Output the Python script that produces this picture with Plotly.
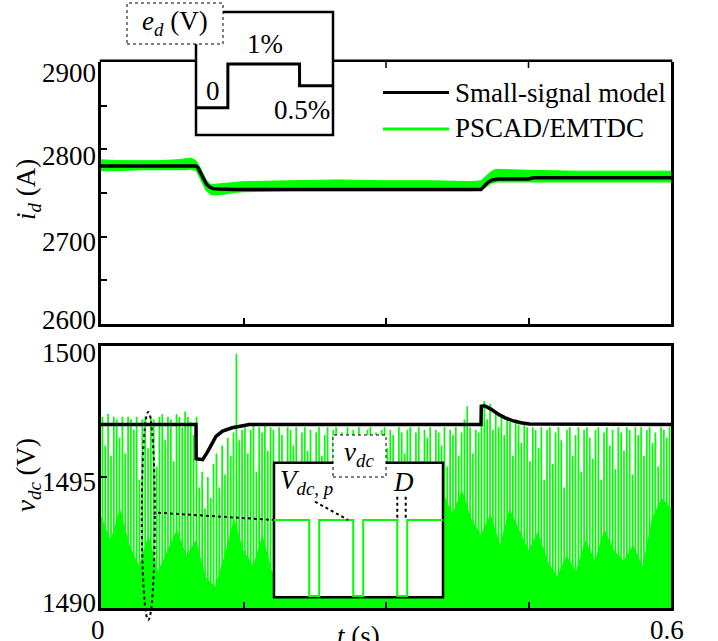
import plotly.graph_objects as go

# ---------------- data ----------------
# top panel: i_d (A)
id_black_t = [0, 0.1, 0.102, 0.105, 0.108, 0.111, 0.114, 0.118, 0.125, 0.14, 0.4, 0.402, 0.405,
              0.408, 0.412, 0.418, 0.45, 0.455, 0.6]
id_black = [2781, 2781, 2779, 2773, 2766, 2760, 2757, 2755, 2754.5, 2754, 2754, 2756, 2760,
            2763, 2765, 2766, 2766, 2767.5, 2767.5]
id_band_t = [0, 0.02, 0.04, 0.06, 0.08, 0.09, 0.095, 0.1, 0.105, 0.11, 0.115, 0.12, 0.13, 0.14,
             0.15, 0.2, 0.25, 0.3, 0.35, 0.39, 0.4, 0.405, 0.41, 0.415, 0.42, 0.45, 0.5, 0.55, 0.6]
id_band_hi = [2788, 2787, 2787, 2787, 2788, 2789, 2790, 2787, 2778, 2766, 2760, 2760, 2761, 2762,
              2763, 2764, 2765, 2764, 2764, 2763, 2764, 2769, 2774, 2777, 2777, 2776, 2775, 2775, 2775]
id_band_lo = [2775, 2775, 2776, 2776, 2776, 2776, 2777, 2775, 2764, 2753, 2748, 2747, 2748, 2750,
              2751, 2752, 2752, 2752, 2752, 2752, 2753, 2756, 2760, 2762, 2762, 2762, 2762, 2762, 2762]

# bottom panel: v_dc (V)
vdc_black_t = [0, 0.1, 0.1002, 0.107, 0.112, 0.117, 0.121, 0.128, 0.138, 0.148, 0.156, 0.17,
               0.4, 0.4003, 0.4035, 0.41, 0.419, 0.426, 0.433, 0.442, 0.451, 0.6]
vdc_black = [1497.0, 1497.0, 1495.7, 1495.66, 1495.95, 1496.3, 1496.55, 1496.75, 1496.88, 1496.95,
             1497.0, 1497.0, 1497.0, 1497.7, 1497.72, 1497.6, 1497.38, 1497.25, 1497.15, 1497.07,
             1497.02, 1497.0]
vdc_spike_hi = [
    1497.3, 1496.2, 1497.4, 1495.8, 1497.3, 1497.2, 1496.5, 1497.3, 1495.9, 1497.3,
    1497.2, 1496.8, 1497.3, 1494.9, 1497.2, 1497.3, 1496.1, 1497.3, 1497.2, 1495.4,
    1497.3, 1497.4, 1496.4, 1497.3, 1497.2, 1495.6, 1497.4, 1497.3, 1496.9, 1497.5,
    1497.3, 1497.1, 1496.6, 1497.3, 1494.6, 1495.2, 1493.8, 1495.0, 1494.2, 1495.5,
    1495.9, 1494.6, 1496.2, 1495.1, 1496.5, 1495.8, 1496.7, 1499.7, 1496.4, 1496.8,
    1496.9, 1495.9, 1496.8, 1497.0, 1495.2, 1496.9, 1496.7, 1497.0, 1496.0, 1496.9,
    1496.8, 1495.5, 1496.9, 1496.6, 1494.8, 1496.9, 1496.8, 1496.2, 1496.9, 1495.3,
    1496.7, 1496.9, 1496.0, 1496.8, 1494.6, 1496.7, 1496.9, 1495.8, 1496.6, 1496.9,
    1495.4, 1496.8, 1496.9, 1496.3, 1496.7, 1494.9, 1496.9, 1496.5, 1496.8, 1495.7,
    1496.9, 1496.6, 1495.1, 1496.8, 1496.9, 1496.2, 1496.7, 1494.7, 1496.8, 1496.9,
    1496.1, 1496.8, 1496.6, 1495.3, 1496.9, 1496.7, 1495.9, 1496.8, 1496.9, 1494.8,
    1496.7, 1496.9, 1495.6, 1496.8, 1496.5, 1496.9, 1495.0, 1496.8, 1496.7, 1496.2,
    1496.9, 1495.4, 1496.8, 1496.6, 1496.9, 1495.8, 1496.7, 1497.2, 1497.7, 1496.9,
    1495.9, 1496.8, 1496.7, 1497.6, 1497.9, 1497.2, 1497.8, 1496.8, 1497.5, 1496.9,
    1497.4, 1496.6, 1497.3, 1497.1, 1495.8, 1497.2, 1497.0, 1496.3, 1497.0, 1496.9,
    1495.6, 1496.9, 1496.8, 1496.1, 1496.9, 1494.9, 1496.8, 1496.9, 1495.5, 1496.7,
    1496.9, 1496.4, 1494.6, 1496.8, 1496.9, 1495.8, 1496.6, 1496.9, 1495.2, 1496.8,
    1496.9, 1496.5, 1495.7, 1496.8, 1496.9, 1494.9, 1496.7, 1496.9, 1496.2, 1496.8,
    1495.3, 1496.9, 1496.7, 1496.0, 1496.9, 1496.8, 1495.1, 1496.9, 1496.6, 1496.9,
    1495.8, 1496.8, 1496.9, 1496.3, 1496.7, 1495.4, 1496.9, 1496.8, 1496.5, 1496.9,
]
vdc_spike_period = 0.003
vdc_base_step = 0.01
vdc_base = [1493.5, 1492.6, 1493.8, 1492.4, 1491.6, 1492.8, 1491.4, 1492.2, 1493.0, 1492.0,
            1492.6, 1491.2, 1490.8, 1492.0, 1493.4, 1492.2, 1491.6, 1492.8, 1491.4, 1490.9,
            1491.8, 1491.2, 1492.4, 1491.6, 1492.9, 1492.2, 1493.1, 1492.4, 1493.4, 1492.6,
            1493.6, 1492.8, 1493.2, 1492.4, 1493.8, 1493.0, 1494.4, 1493.6, 1494.5, 1493.4,
            1492.8, 1493.6, 1492.4, 1493.8, 1493.0, 1492.2, 1492.9, 1491.8, 1491.2, 1492.0,
            1491.4, 1492.6, 1491.8, 1493.0, 1492.2, 1491.8, 1492.4, 1491.6, 1493.4, 1494.2,
            1493.8]

# inset: e_d step (schematic)
ed_step_x = [0, 1, 1, 3.25, 3.25, 4.3]
ed_step_pct = [0, 0, 1, 1, 0.5, 0.5]
# inset: v_dc waveform (schematic, normalised)
vdc_inset_x = [0, 0.80, 0.80, 1.027, 1.027, 1.80, 1.80, 2.027, 2.027, 2.80, 2.80, 3.027, 3.027, 3.84]
vdc_inset_v = [1, 1, 0, 0, 1, 1, 0, 0, 1, 1, 0, 0, 1, 1]

id_tickvals = [2600, 2650, 2700, 2750, 2800, 2850, 2900]
id_ticklabels = ["2600", "2700", "2800", "2900"]
vdc_tickvals = [1490, 1495, 1500]
vdc_ticklabels = ["1490", "1495", "1500"]
t_tickvals = [0, 0.15, 0.3, 0.45, 0.6]
t_ticklabels = ["0", "0.6"]

# ---------------- layout helpers (pixel -> paper) ----------------
W, H = 718, 641
ML, MR, MT, MB = 101, 47, 2, 33
PW, PH = W - ML - MR, H - MT - MB


def X(px):
    return (px - ML) / PW


def Y(py):
    return (H - MB - py) / PH


FONT = "Liberation Serif, Times New Roman, serif"
FS = 27
GREEN = "#00ff00"

fig = go.Figure()

# top panel
fig.add_trace(go.Scatter(x=id_band_t, y=id_band_lo, mode="lines", line=dict(width=0, color=GREEN),
                         xaxis="x", yaxis="y", showlegend=False, hoverinfo="skip"))
fig.add_trace(go.Scatter(x=id_band_t, y=id_band_hi, mode="lines", line=dict(width=1, color=GREEN),
                         fill="tonexty", fillcolor=GREEN, xaxis="x", yaxis="y",
                         name="PSCAD/EMTDC", showlegend=False))
fig.add_trace(go.Scatter(x=id_black_t, y=id_black, mode="lines", line=dict(width=3.5, color="black"),
                         xaxis="x", yaxis="y", name="Small-signal model", showlegend=False))

# bottom panel
vdc_base_t = [round(vdc_base_step * i, 4) for i in range(len(vdc_base))]
fig.add_trace(go.Scatter(x=vdc_base_t, y=vdc_base, mode="lines", line=dict(width=0, color=GREEN),
                         fill="tozeroy", fillcolor=GREEN, xaxis="x2", yaxis="y2",
                         showlegend=False, hoverinfo="skip"))
sx, sy = [], []
for i, h in enumerate(vdc_spike_hi):
    t = round(vdc_spike_period / 2 + vdc_spike_period * i, 5)
    sx += [t, t, None]
    sy += [1489, h, None]
fig.add_trace(go.Scatter(x=sx, y=sy, mode="lines", line=dict(width=1.7, color=GREEN),
                         xaxis="x2", yaxis="y2", name="PSCAD/EMTDC", showlegend=False))
fig.add_trace(go.Scatter(x=vdc_black_t, y=vdc_black, mode="lines", line=dict(width=3.5, color="black"),
                         xaxis="x2", yaxis="y2", name="Small-signal model", showlegend=False))

# e_d inset
fig.add_trace(go.Scatter(x=ed_step_x, y=ed_step_pct, mode="lines", line=dict(width=3, color="black"),
                         xaxis="x3", yaxis="y3", showlegend=False, hoverinfo="skip"))
# v_dc inset axes holder
fig.add_trace(go.Scatter(x=[None], y=[None], mode="lines", xaxis="x4", yaxis="y4",
                         showlegend=False, hoverinfo="skip"))

axis_common = dict(showline=True, linecolor="black", linewidth=2.5, ticks="inside", ticklen=6,
                   tickwidth=1.5, tickcolor="black", showgrid=False, zeroline=False, automargin=False,
                   showticklabels=False)
hidden = dict(visible=False, automargin=False, showgrid=False, zeroline=False)

fig.update_layout(
    width=W, height=H,
    margin=dict(l=ML, r=MR, t=MT, b=MB, autoexpand=False),
    paper_bgcolor="white", plot_bgcolor="white",
    font=dict(family=FONT, size=FS, color="black"),
    showlegend=False,
    xaxis=dict(domain=[0, 1], range=[0, 0.6], anchor="y", tickvals=t_tickvals, mirror=False, **axis_common),
    yaxis=dict(domain=[Y(324), Y(62)], range=[2600, 2900], anchor="x", tickvals=id_tickvals,
               mirror=True, **axis_common),
    xaxis2=dict(domain=[0, 1], range=[0, 0.6], anchor="y2", tickvals=t_tickvals, mirror=True, **axis_common),
    yaxis2=dict(domain=[0, Y(346)], range=[1490, 1500], anchor="x2", tickvals=vdc_tickvals,
                mirror=True, **axis_common),
    xaxis3=dict(domain=[X(196), X(333)], range=[0, 4.3], anchor="y3", **hidden),
    yaxis3=dict(domain=[Y(135), Y(12)], range=[-0.6247, 2.190], anchor="x3", **hidden),
    xaxis4=dict(domain=[X(274), X(443)], range=[0, 3.84], anchor="y4", **hidden),
    yaxis4=dict(domain=[Y(597.3), Y(462.7)], range=[-0.017, 1.754], anchor="x4", **hidden),
)

shapes = []
# top border of upper panel (interrupted by the e_d inset)
shapes.append(dict(type="line", xref="paper", yref="paper", x0=X(99.75), x1=X(196), y0=Y(60.75), y1=Y(60.75),
                   line=dict(color="black", width=2.5)))
shapes.append(dict(type="line", xref="paper", yref="paper", x0=X(333), x1=X(672.25), y0=Y(60.75), y1=Y(60.75),
                   line=dict(color="black", width=2.5)))
for tv in t_tickvals[2:4]:
    shapes.append(dict(type="line", xref="x", yref="paper", x0=tv, x1=tv, y0=Y(62), y1=Y(68),
                       line=dict(color="black", width=1.5)))
# e_d inset frame
shapes.append(dict(type="path", xref="paper", yref="paper",
                   path=f"M {X(223)},{Y(12)} L {X(333)},{Y(12)} L {X(333)},{Y(135)} L {X(196)},{Y(135)} L {X(196)},{Y(44)}",
                   line=dict(color="black", width=2.5)))
shapes.append(dict(type="rect", xref="paper", yref="paper", x0=X(127), x1=X(223), y0=Y(44), y1=Y(3),
                   fillcolor="white", line=dict(color="black", width=1, dash="dot")))
# legend samples
shapes.append(dict(type="line", xref="paper", yref="paper", x0=X(383), x1=X(449), y0=Y(92.5), y1=Y(92.5),
                   line=dict(color="black", width=3)))
shapes.append(dict(type="line", xref="paper", yref="paper", x0=X(383), x1=X(449), y0=Y(129), y1=Y(129),
                   line=dict(color=GREEN, width=3)))
# v_dc inset
shapes.append(dict(type="rect", xref="paper", yref="paper", x0=X(274), x1=X(443), y0=Y(597.3), y1=Y(462.7),
                   fillcolor="white", line=dict(color="black", width=2.5)))
path = "M " + " L ".join(f"{x},{v}" for x, v in zip(vdc_inset_x, vdc_inset_v))
shapes.append(dict(type="path", xref="x4", yref="y4", path=path, line=dict(color=GREEN, width=2)))
shapes.append(dict(type="rect", xref="paper", yref="paper", x0=X(333), x1=X(386), y0=Y(477), y1=Y(435),
                   fillcolor="white", line=dict(color="black", width=1, dash="dot")))
dot = dict(color="black", width=2, dash="dot")
shapes.append(dict(type="line", xref="paper", yref="paper", x0=X(315), y0=Y(501.7), x1=X(348.3), y1=Y(520), line=dot))
shapes.append(dict(type="line", xref="paper", yref="paper", x0=X(397.3), y0=Y(496.7), x1=X(397.3), y1=Y(520), line=dot))
shapes.append(dict(type="line", xref="paper", yref="paper", x0=X(405.7), y0=Y(496.7), x1=X(405.7), y1=Y(520), line=dot))
shapes.append(dict(type="line", xref="paper", yref="paper", x0=X(158), y0=Y(512.7), x1=X(274), y1=Y(520), line=dot))
shapes.append(dict(type="circle", xref="paper", yref="paper", x0=X(141.8), x1=X(154.8), y0=Y(620), y1=Y(412),
                   line=dot))
fig.update_layout(shapes=shapes)


def ann(x, y, text, xanchor="center", yanchor="middle", angle=0, size=FS):
    return dict(x=X(x), y=Y(y), xref="paper", yref="paper", text=text, showarrow=False,
                xanchor=xanchor, yanchor=yanchor, textangle=angle,
                font=dict(family=FONT, size=size, color="black"))


annotations = [
    ann(28, 190, "<i>i<sub>d</sub></i> (A)", angle=-90),
    ann(28, 475, "<i>v<sub>dc</sub></i> (V)", angle=-90),
    ann(358, 619, "<i>t</i> (s)", yanchor="top"),
    ann(175, 23, "<i>e<sub>d</sub></i> (V)"),
    ann(213, 91, "0"),
    ann(265, 44, "1%"),
    ann(302, 110, "0.5%"),
    ann(453, 93, "Small-signal model", xanchor="left"),
    ann(453, 128, "PSCAD/EMTDC", xanchor="left"),
    ann(359, 454, "<i>v<sub>dc</sub></i>"),
    ann(306, 482, "<i>V<sub>dc, p</sub></i>"),
    ann(403, 482, "<i>D</i>"),
]
# tick labels, placed where the reference draws them (slightly off the ticks)
id_label_py = [320, 241.5, 156, 73]
for txt, py in zip(id_ticklabels, id_label_py):
    annotations.append(ann(98, py, txt, xanchor="right"))
vdc_label_py = [603, 481.5, 353]
for txt, py in zip(vdc_ticklabels, vdc_label_py):
    annotations.append(ann(98, py, txt, xanchor="right"))
t_label_px = [98, 667]
for txt, px in zip(t_ticklabels, t_label_px):
    annotations.append(ann(px, 630, txt))
fig.update_layout(annotations=annotations)

fig.write_html("out.html", config={"displayModeBar": False},
               post_script="document.body.style.margin='0px';")
